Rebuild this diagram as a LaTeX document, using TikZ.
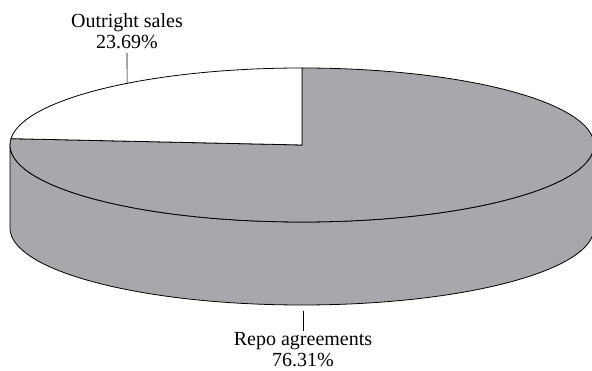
\documentclass[tikz,border=0pt]{standalone}
\usepackage{fontspec}
\setmainfont{Liberation Serif}
\definecolor{sliceshade}{RGB}{167,168,172}

\begin{document}
\begin{tikzpicture}[x=1pt,y=1pt,line width=0.8pt,
       grayslice/.style={draw=black,fill=sliceshade},
       whiteslice/.style={draw=black,fill=white},
       pielabel/.style={font=\fontsize{20}{21}\selectfont,align=center},
       tick/.style={draw=black,line width=0.6pt}]
    \useasboundingbox (0,0) rectangle (592,371);
    \coordinate (c) at (302,226);
    % side of the pie
    \draw[grayslice] (10,226) -- (10,143)
      arc[start angle=180,end angle=360,x radius=292,y radius=77]
      -- (594,226)
      arc[start angle=0,end angle=-180,x radius=292,y radius=77] -- cycle;
    % top: repo agreements
    \draw[grayslice] (c) -- ++(175.28:292 and 77)
      arc[start angle=175.28,end angle=450,x radius=292,y radius=77] -- cycle;
    % top: outright sales
    \draw[whiteslice] (c) -- ++(90:292 and 77)
      arc[start angle=90,end angle=175.28,x radius=292,y radius=77] -- cycle;
    % labels
    \coordinate (outtick) at ([shift={(c)}]126.8:292 and 77);
    \node[pielabel,anchor=south,inner sep=4pt] (outright) at (127,318)
      {Outright sales\\23.69\%};
    \draw[tick] (outright.south) -- (outtick);
    \coordinate (repotick) at (303,60);
    \node[pielabel,anchor=north,inner sep=1pt] (repo) at (303,40)
      {Repo agreements\\76.31\%};
    \draw[tick] (repotick) -- (repo.north);
\end{tikzpicture}
\end{document}
